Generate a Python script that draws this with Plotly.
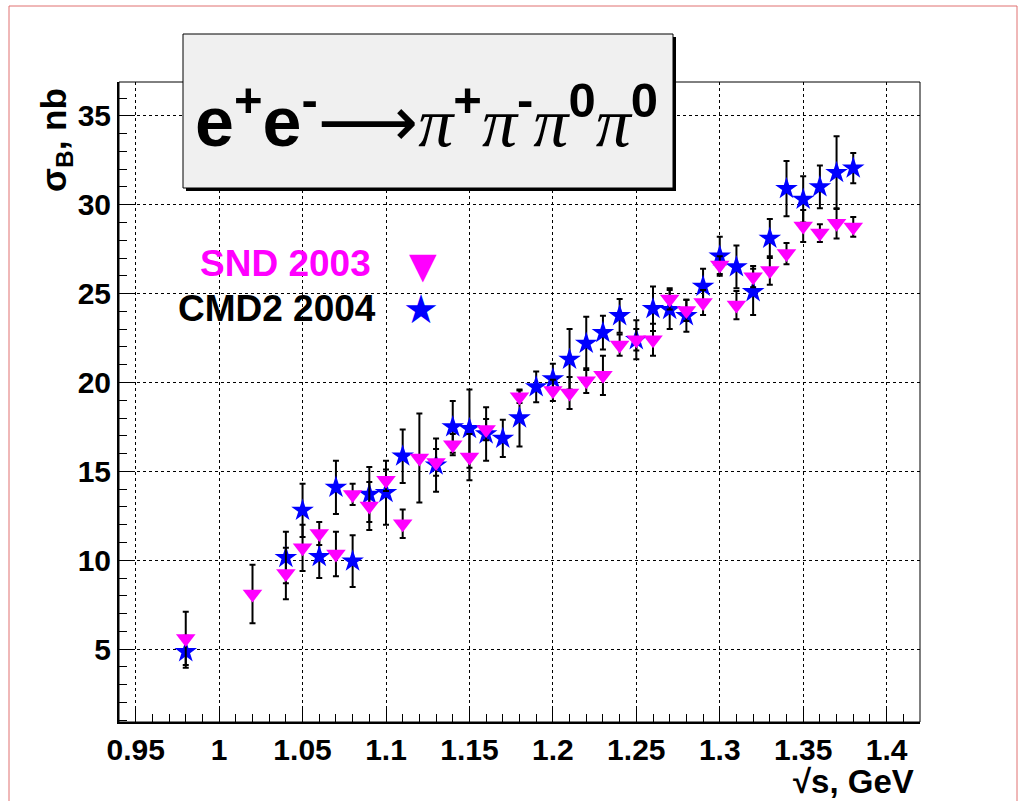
import plotly.graph_objects as go

# ---------------- data ----------------
snd_x = [0.98, 1.02, 1.04, 1.05, 1.06, 1.07, 1.08, 1.09, 1.10, 1.11, 1.12, 1.13, 1.14, 1.15,
         1.16, 1.18, 1.20, 1.21, 1.22, 1.23, 1.24, 1.25, 1.26, 1.27, 1.28, 1.29, 1.30, 1.31,
         1.32, 1.33, 1.34, 1.35, 1.36, 1.37, 1.38]
snd_y = [5.6, 8.1, 9.25, 10.7, 11.5, 10.35, 13.7, 13.05, 14.5, 12.05, 15.75, 15.5, 16.5, 15.8,
         17.35, 19.2, 19.55, 19.4, 20.1, 20.4, 22.1, 22.4, 22.4, 24.7, 24.05, 24.5, 26.6, 24.35,
         25.95, 26.3, 27.25, 28.8, 28.4, 28.95, 28.75]
snd_err = [1.5, 1.65, 1.45, 1.3, 0.65, 1.25, 0.6, 1.35, 0.6, 0.8, 2.5, 0.75, 0.6, 1.3,
           0.6, 0.35, 0.6, 0.9, 0.7, 1.1, 0.6, 0.6, 0.9, 0.6, 0.6, 0.7, 0.5, 0.8,
           0.6, 0.8, 0.6, 0.9, 0.5, 0.85, 0.55]

cmd_x = [0.98, 1.04, 1.05, 1.06, 1.07, 1.08, 1.09, 1.10, 1.11, 1.13, 1.14, 1.15, 1.16, 1.17,
         1.18, 1.19, 1.20, 1.21, 1.22, 1.23, 1.24, 1.25, 1.26, 1.27, 1.28, 1.29, 1.30, 1.31,
         1.32, 1.33, 1.34, 1.35, 1.36, 1.37, 1.38]
cmd_y = [4.85, 10.15, 12.8, 10.2, 14.1, 9.95, 13.7, 13.8, 15.85, 15.35, 17.5, 17.4, 17.1, 16.85,
         18.0, 19.75, 20.2, 21.3, 22.2, 22.8, 23.75, 22.4, 24.15, 24.1, 23.75, 25.4, 27.1, 26.5,
         25.1, 28.1, 30.9, 30.3, 31.0, 31.8, 32.05]
cmd_err = [0.9, 1.45, 1.5, 1.2, 1.5, 1.45, 1.55, 1.8, 1.5, 1.5, 1.45, 2.2, 1.5, 1.05,
           1.6, 0.87, 0.85, 1.7, 1.5, 0.95, 0.95, 1.1, 1.25, 1.1, 0.9, 1.0, 1.1, 1.2,
           1.3, 1.1, 1.55, 1.3, 1.2, 2.05, 0.85]

x_ticks = [0.95, 1.0, 1.05, 1.1, 1.15, 1.2, 1.25, 1.3, 1.35, 1.4]
x_tick_text = ["0.95", "1", "1.05", "1.1", "1.15", "1.2", "1.25", "1.3", "1.35", "1.4"]
y_ticks = [5, 10, 15, 20, 25, 30, 35]

# ---------------- layout geometry ----------------
W, H = 1020, 801
ML, MR, MT, MB = 119, 100, 82, 79
PW, PH = W - ML - MR, H - MT - MB


def px(x):
    return (x - ML) / PW


def py(y):
    return (H - MB - y) / PH


SANS = "Liberation Sans, Arial, sans-serif"

fig = go.Figure()

fig.add_trace(go.Scatter(
    x=cmd_x, y=cmd_y, mode="markers", name="CMD2 2004",
    marker=dict(symbol="star", size=17, color="#0000ff"),
    error_y=dict(type="data", array=cmd_err, color="black", thickness=2, width=3),
    showlegend=False,
))
fig.add_trace(go.Scatter(
    x=snd_x, y=snd_y, mode="markers", name="SND 2003",
    marker=dict(symbol="triangle-down", size=17, color="#ff00ff"),
    error_y=dict(type="data", array=snd_err, color="black", thickness=2, width=3),
    showlegend=False,
))

axis_common = dict(
    showgrid=True, gridcolor="black", gridwidth=1, griddash="dot",
    zeroline=False, showline=True, linecolor="black", linewidth=2,
    ticks="inside", ticklen=16, tickwidth=1, tickcolor="black",
    tickfont=dict(family=SANS, size=30, color="black", weight="bold"),
)

fig.update_xaxes(
    range=[0.94, 1.42], tickvals=x_ticks, ticktext=x_tick_text,
    minor=dict(dtick=0.01, tick0=0.94, ticks="inside", ticklen=8, tickcolor="black", showgrid=False),
    **axis_common,
)
fig.update_yaxes(
    range=[0.9, 36.9], tickvals=y_ticks,
    minor=dict(dtick=1, tick0=0, ticks="inside", ticklen=8, tickcolor="black", showgrid=False),
    **axis_common,
)

shapes = [
    # canvas border
    dict(type="rect", xref="paper", yref="paper", x0=px(9), x1=px(1017), y0=py(830), y1=py(6),
         line=dict(color="#e07070", width=1), fillcolor="rgba(0,0,0,0)", layer="above"),
    # frame
    dict(type="rect", xref="paper", yref="paper", x0=0, x1=1, y0=0, y1=1,
         line=dict(color="black", width=1), fillcolor="rgba(0,0,0,0)", layer="above"),
    # title box shadow
    dict(type="rect", xref="paper", yref="paper", x0=px(186), x1=px(676), y0=py(191), y1=py(37),
         line=dict(color="black", width=0), fillcolor="black", layer="above"),
    # title box
    dict(type="rect", xref="paper", yref="paper", x0=px(183), x1=px(673), y0=py(188), y1=py(34),
         line=dict(color="black", width=1), fillcolor="#f0f0f0", layer="above"),
]

pi = '<span style="font-family:Liberation Serif, serif;font-weight:normal;font-style:italic">π</span>'
arrow = '<span style="font-family:DejaVu Sans, sans-serif;font-weight:normal">⟶</span>'
title_txt = ('e<sup>+</sup>e<sup>-</sup>' + arrow + pi + '<sup>+</sup>' + pi + '<sup>-</sup>'
             + pi + '<sup>0</sup>' + pi + '<sup>0</sup>')

annotations = [
    dict(text=title_txt, xref="paper", yref="paper", x=px(426), y=py(118),
         xanchor="center", yanchor="middle", showarrow=False,
         font=dict(family=SANS, size=70, color="black", weight="bold")),
    dict(text="σ<sub>B</sub>, nb", xref="paper", yref="paper", x=px(56), y=py(86),
         xanchor="center", yanchor="top", textangle=-90, showarrow=False,
         font=dict(family=SANS, size=35, color="black", weight="bold")),
    dict(text="√s, GeV", xref="paper", yref="paper", x=px(916), y=py(781),
         xanchor="right", yanchor="middle", showarrow=False,
         font=dict(family=SANS, size=33, color="black", weight="bold")),
    dict(text="SND 2003", xref="paper", yref="paper", x=px(285), y=py(263),
         xanchor="center", yanchor="middle", showarrow=False,
         font=dict(family=SANS, size=37, color="#ff00ff", weight="bold")),
    dict(text="CMD2 2004", xref="paper", yref="paper", x=px(277), y=py(308),
         xanchor="center", yanchor="middle", showarrow=False,
         font=dict(family=SANS, size=37, color="black", weight="bold")),
    dict(text="▼", xref="paper", yref="paper", x=px(423), y=py(265),
         xanchor="center", yanchor="middle", showarrow=False,
         font=dict(family="DejaVu Sans", size=36, color="#ff00ff")),
    dict(text="★", xref="paper", yref="paper", x=px(421), y=py(309),
         xanchor="center", yanchor="middle", showarrow=False,
         font=dict(family="DejaVu Sans", size=40, color="#0000ff")),
]

fig.update_layout(
    width=W, height=H,
    margin=dict(l=ML, r=MR, t=MT, b=MB, pad=0),
    paper_bgcolor="white", plot_bgcolor="white",
    showlegend=False,
    shapes=shapes, annotations=annotations,
)

fig.write_html("out.html")
